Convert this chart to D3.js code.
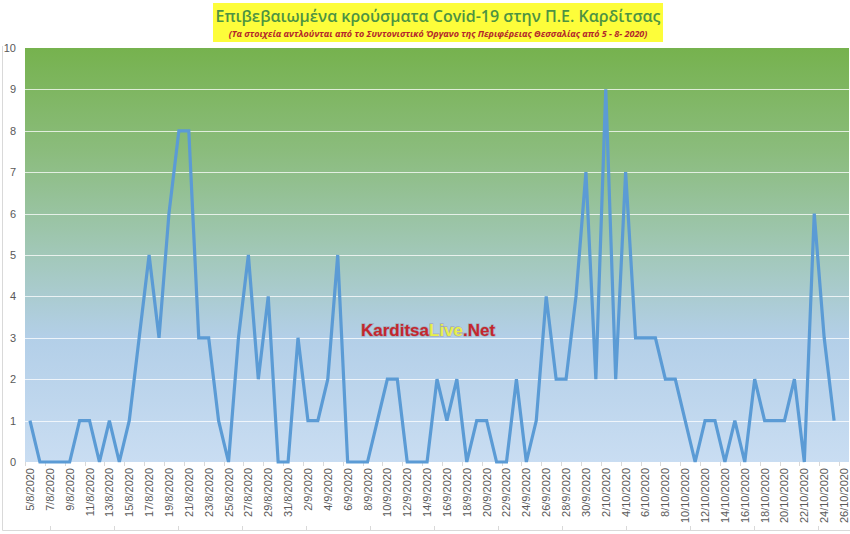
<!DOCTYPE html>
<html>
<head>
  <meta charset="utf-8">
  <style>
    body{
      margin:0;
      background:#fff;
      font-family: "Liberation Sans", Arial, sans-serif;
    }
    .tick-label{
      fill:#595959;
      font-size:11px;
    }
    .grid-line{
      stroke:#fff;
      stroke-opacity:0.75;
      stroke-width:1px;
    }
    .chart-line{
      fill:none;
      stroke:#5b9bd5;
      stroke-width:3.2px;
      stroke-linejoin:miter;
    }
    .frame{
      stroke:#d9d9d9;
      stroke-width:1px;
      fill:none;
    }
  </style>
  <script src="https://d3js.org/d3.v7.min.js"></script>
</head>
<body>
<div class="chart-container"></div>
<script>
const title = 'Επιβεβαιωμένα κρούσματα Covid-19 στην Π.Ε. Καρδίτσας';
const subtitle = '(Τα στοιχεία αντλούνται από το Συντονιστικό Όργανο της Περιφέρειας Θεσσαλίας από 5 - 8- 2020)';

// one category per day, 5/8/2020 .. 26/10/2020
const dates = [
  '5/8/2020','6/8/2020','7/8/2020','8/8/2020','9/8/2020','10/8/2020','11/8/2020','12/8/2020',
  '13/8/2020','14/8/2020','15/8/2020','16/8/2020','17/8/2020','18/8/2020','19/8/2020','20/8/2020',
  '21/8/2020','22/8/2020','23/8/2020','24/8/2020','25/8/2020','26/8/2020','27/8/2020','28/8/2020',
  '29/8/2020','30/8/2020','31/8/2020',
  '1/9/2020','2/9/2020','3/9/2020','4/9/2020','5/9/2020','6/9/2020','7/9/2020','8/9/2020',
  '9/9/2020','10/9/2020','11/9/2020','12/9/2020','13/9/2020','14/9/2020','15/9/2020','16/9/2020',
  '17/9/2020','18/9/2020','19/9/2020','20/9/2020','21/9/2020','22/9/2020','23/9/2020','24/9/2020',
  '25/9/2020','26/9/2020','27/9/2020','28/9/2020','29/9/2020','30/9/2020',
  '1/10/2020','2/10/2020','3/10/2020','4/10/2020','5/10/2020','6/10/2020','7/10/2020','8/10/2020',
  '9/10/2020','10/10/2020','11/10/2020','12/10/2020','13/10/2020','14/10/2020','15/10/2020','16/10/2020',
  '17/10/2020','18/10/2020','19/10/2020','20/10/2020','21/10/2020','22/10/2020','23/10/2020','24/10/2020',
  '25/10/2020','26/10/2020'
];

// confirmed cases per day (no value for the last category)
const cases = [
  1,0,0,0,0,1,1,0,1,0,1,3,5,3,6,8,8,3,3,1,0,3,5,2,4,0,0,
  3,1,1,2,5,0,0,0,1,2,2,0,0,0,2,1,2,0,1,1,0,0,2,0,1,4,2,2,4,7,
  2,9,2,7,3,3,3,2,2,1,0,1,1,0,1,0,2,1,1,1,2,0,6,3,1
];

const yTicks = [0,1,2,3,4,5,6,7,8,9,10];

const width = 850;
const height = 534;
const margin = {top:48, right:1, bottom:72, left:25};

const svg = d3.select('.chart-container')
  .append('svg')
  .attr('width', width)
  .attr('height', height);

// gradient background of the plot area
const defs = svg.append('defs');
const grad = defs.append('linearGradient')
  .attr('id', 'plot-bg')
  .attr('x1', 0).attr('y1', 0).attr('x2', 0).attr('y2', 1);
[[0,'#76b24e'],[0.25,'#8bbc7d'],[0.5,'#a2c8b9'],[0.7,'#b3cfe8'],[1,'#c9ddf2']]
  .forEach(([o,c])=>grad.append('stop').attr('offset', o).attr('stop-color', c));

const x = d3.scaleBand()
  .domain(dates)
  .range([margin.left, width - margin.right])
  .paddingInner(0).paddingOuter(0);

const y = d3.scaleLinear()
  .domain([0, 10])
  .range([height - margin.bottom, margin.top]);

// outer frame (left and bottom edges visible in the picture)
svg.append('line').attr('class','frame')
  .attr('x1', 2.5).attr('x2', 2.5).attr('y1', 46).attr('y2', 530.5);
svg.append('line').attr('class','frame')
  .attr('x1', 2.5).attr('x2', width).attr('y1', 530.5).attr('y2', 530.5);
svg.append('g')
  .selectAll('line')
  .data(d3.range(50, width, 64))
  .join('line')
  .attr('class','frame')
  .attr('x1', d=>d + 0.5).attr('x2', d=>d + 0.5)
  .attr('y1', 526).attr('y2', 530.5);

svg.append('rect')
  .attr('x', margin.left)
  .attr('y', margin.top)
  .attr('width', width - margin.right - margin.left)
  .attr('height', height - margin.bottom - margin.top)
  .attr('fill', 'url(#plot-bg)');

// horizontal grid lines
svg.append('g')
  .selectAll('line')
  .data(yTicks.filter(d=>d > 0 && d < 10))
  .join('line')
  .attr('class','grid-line')
  .attr('x1', margin.left)
  .attr('x2', width - margin.right)
  .attr('y1', d=>Math.round(y(d)) + 0.5)
  .attr('y2', d=>Math.round(y(d)) + 0.5);

// y axis labels
svg.append('g')
  .selectAll('text')
  .data(yTicks)
  .join('text')
  .attr('class','tick-label')
  .attr('x', 16)
  .attr('y', d=>y(d) + 4)
  .attr('text-anchor','end')
  .text(d=>d);

// x axis ticks, every second category boundary
const labelled = dates.filter((d,i)=>i % 2 === 0);
svg.append('g')
  .selectAll('line')
  .data(labelled)
  .join('line')
  .attr('stroke','#d9d9d9')
  .attr('x1', d=>Math.round(x(d)) + 0.5)
  .attr('x2', d=>Math.round(x(d)) + 0.5)
  .attr('y1', height - margin.bottom)
  .attr('y2', height - margin.bottom + 4);

svg.append('g')
  .selectAll('text')
  .data(labelled)
  .join('text')
  .attr('class','tick-label')
  .attr('text-anchor','end')
  .attr('transform', d=>`translate(${x(d) + x.bandwidth()/2 + 4},${height - margin.bottom + 6}) rotate(-90)`)
  .text(d=>d);

// the cases line
const line = d3.line()
  .x((d,i)=>x(dates[i]) + x.bandwidth()/2)
  .y(d=>y(d));

svg.append('path')
  .attr('class','chart-line')
  .attr('d', line(cases));

// watermark
const wm = svg.append('text')
  .attr('x', 361)
  .attr('y', 336)
  .attr('font-size', 17)
  .attr('font-weight', 'bold')
  .attr('fill', '#c4262e')
  .attr('style', 'paint-order:stroke')
  .attr('stroke', 'rgba(120,60,60,0.25)')
  .attr('stroke-width', 1.5);
wm.append('tspan').text('Karditsa');
wm.append('tspan').attr('fill', '#e8ef4a').text('Live');
wm.append('tspan').text('.Net');

// title box
svg.append('rect')
  .attr('x', 213)
  .attr('y', 3)
  .attr('width', 450)
  .attr('height', 39)
  .attr('fill', '#fdfd3a');

svg.append('text')
  .attr('x', 438)
  .attr('y', 22)
  .attr('text-anchor', 'middle')
  .attr('font-family', '"Open Sans", sans-serif')
  .attr('font-size', 16)
  .attr('font-weight', 600)
  .attr('fill', '#4d9342')
  .text(title);

svg.append('text')
  .attr('x', 438)
  .attr('y', 37)
  .attr('text-anchor', 'middle')
  .attr('font-family', '"Open Sans", sans-serif')
  .attr('font-size', 9)
  .attr('font-weight', 'bold')
  .attr('font-style', 'italic')
  .attr('fill', '#b3272b')
  .text(subtitle);
</script>
</body>
</html>
